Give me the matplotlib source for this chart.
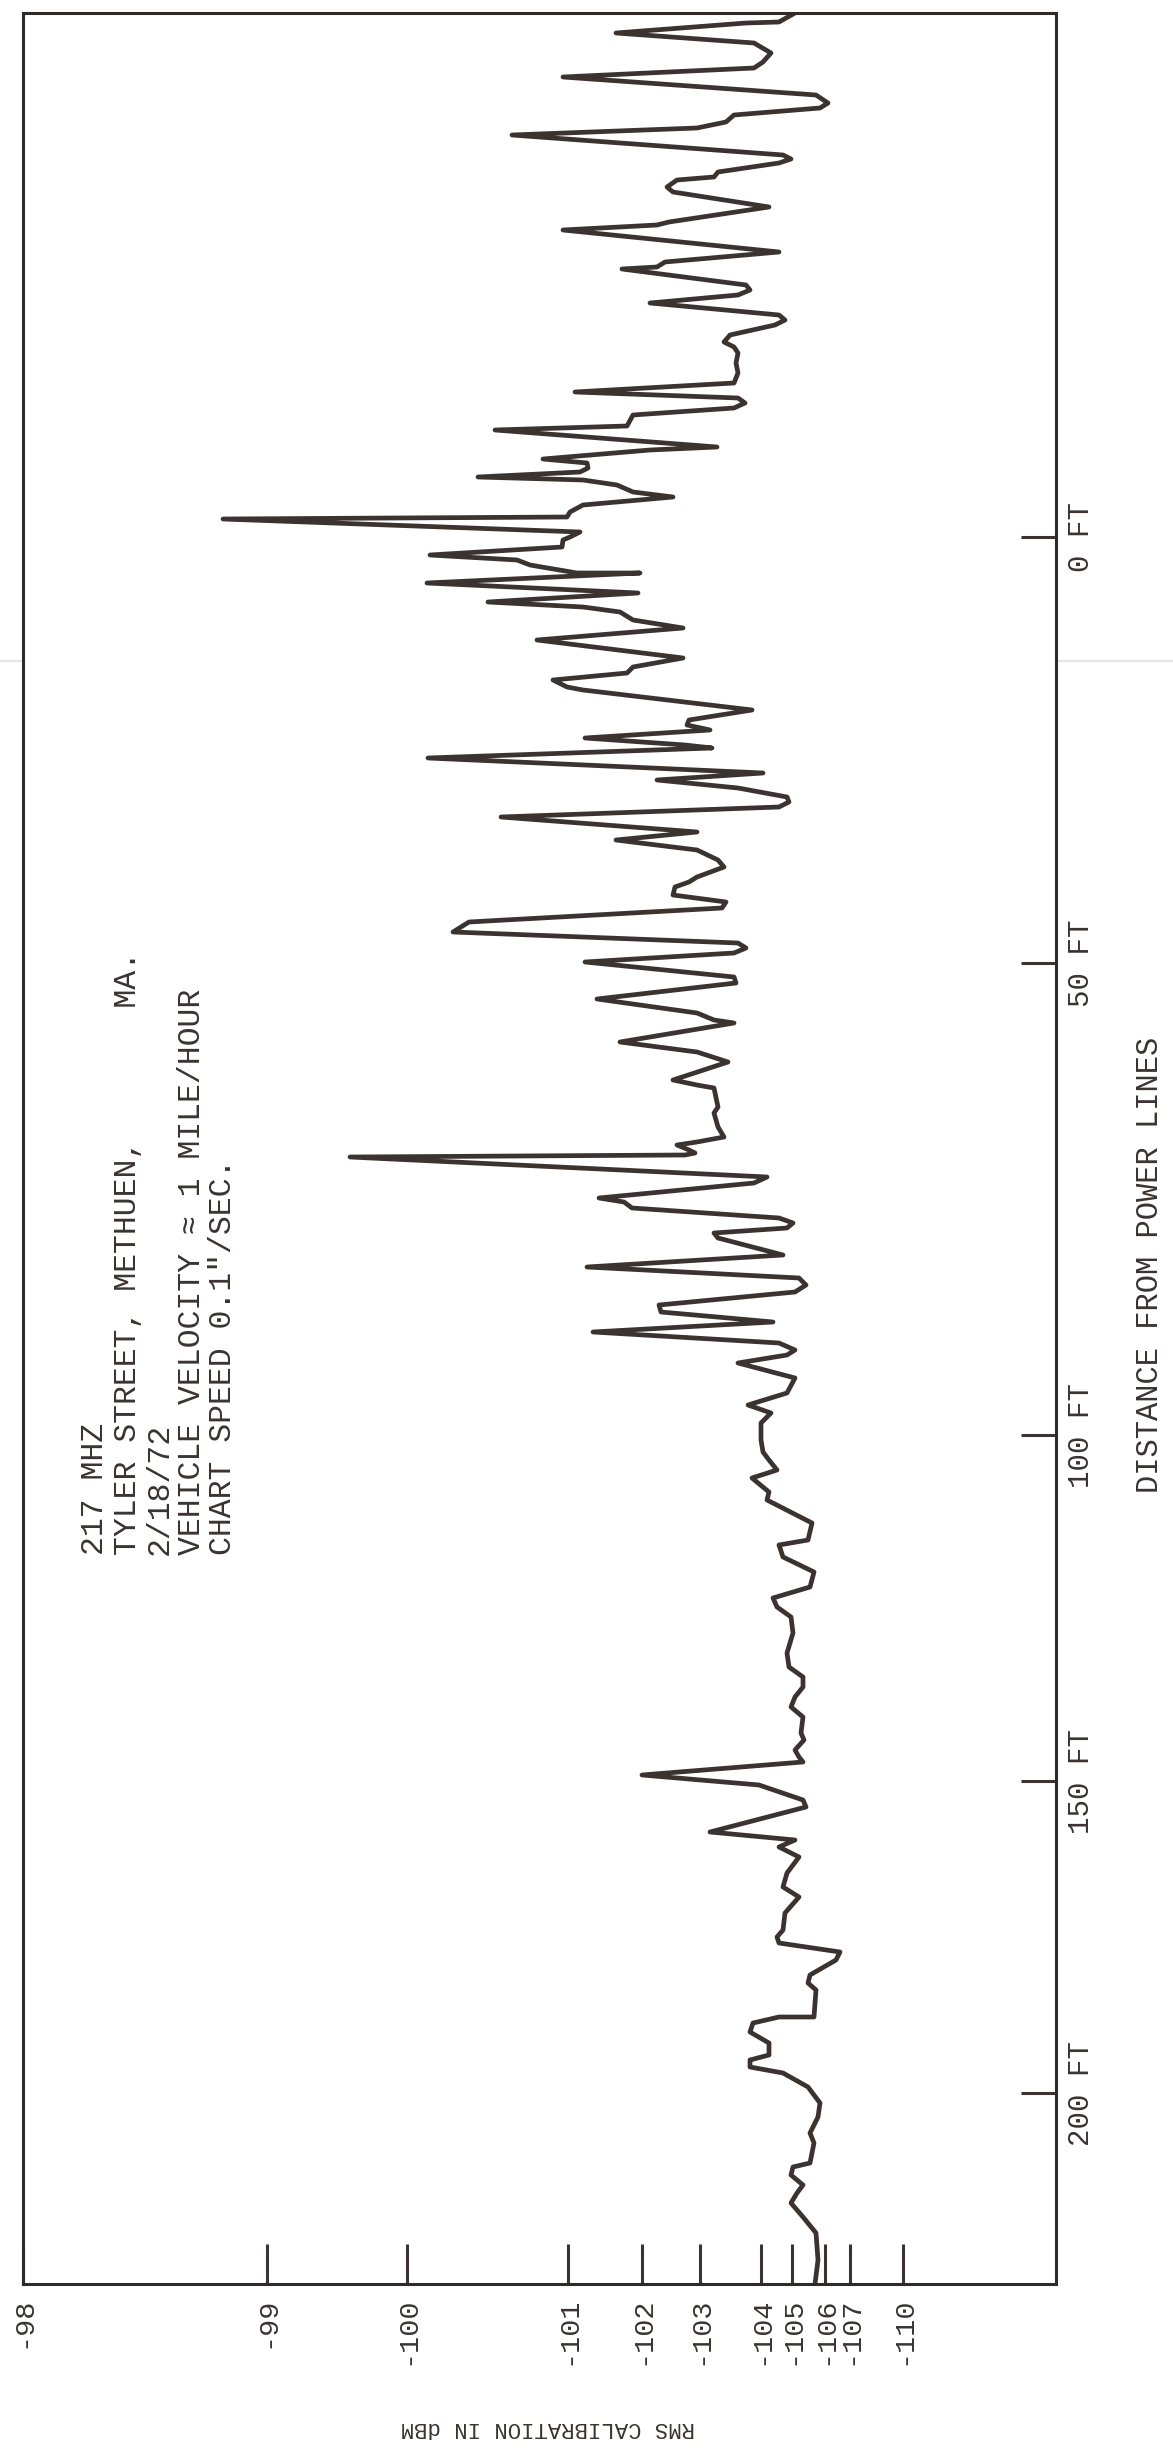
import matplotlib
matplotlib.use('Agg')
import matplotlib.pyplot as plt
from matplotlib.lines import Line2D

plt.rcParams['font.family'] = ['Liberation Mono', 'DejaVu Sans Mono']

INK = '#3a3330'

# calibration marks along the pen axis (chart units measured from the -98 dBm edge)
cal_labels = ['-98', '-99', '-100', '-101', '-102', '-103', '-104', '-105', '-106', '-107', '-110']
cal_pos = [0.0, 24.4, 38.4, 54.5, 61.9, 67.7, 73.8, 76.9, 80.2, 82.7, 88.0]

# distance marks along the paper travel (chart units from the top of the strip)
dist_labels = ['0 FT', '50 FT', '100 FT', '150 FT', '200 FT']
dist_pos = [52.4, 95.0, 142.2, 176.8, 208.0]

# recorder trace: paper travel and pen deflection
chart_travel = [
    0.0, 0.9, 1.0, 2.0, 3.0, 4.0, 4.9, 5.5, 6.4, 8.2, 9.0, 9.5, 10.2, 10.9, 11.5,
    12.2, 14.2, 14.6, 15.0, 15.9, 16.4, 16.7, 17.4, 17.9, 19.4, 20.9, 21.2, 21.7,
    23.9, 24.9, 25.4, 25.6, 27.2, 27.7, 28.2, 29.0, 30.2, 30.7, 31.2, 32.2, 32.9,
    33.4, 34.0, 35.0, 36.0, 37.0, 37.9,
    38.5, 39.0, 39.5, 40.2, 41.3, 41.7, 43.4, 43.7, 44.6, 45.0, 45.5, 45.9, 46.4,
    46.7, 47.2, 47.9, 48.4, 49.2, 49.9, 50.4, 50.6, 51.9, 52.4, 52.7, 53.4, 54.2,
    54.7, 55.2, 56.0, 56.0, 57.0, 58.0, 58.9, 59.4, 59.9, 60.7, 61.5, 62.7, 64.5,
    65.4, 66.0, 66.7, 67.4, 67.7, 69.7,
    70.7, 71.2, 71.7, 72.5, 73.2, 73.5, 74.5, 76.0,
    76.7, 77.5, 78.4, 78.9, 79.4, 80.4, 81.9, 82.7, 83.7, 84.7, 85.4, 86.4, 86.9,
    87.4, 88.2, 88.9, 89.5, 90.9, 91.9, 93.0, 93.5, 94.0, 94.9, 96.4, 97.0, 98.6,
    100.0, 100.7, 101.0, 102.9, 103.9, 104.9, 106.7, 107.2, 107.5, 109.4, 110.0,
    111.4, 112.4, 112.9, 113.2, 113.7, 114.0,
    114.2, 114.4, 116.4, 117.0, 118.5, 118.9, 119.5, 120.5, 121.0, 121.5, 122.0,
    122.5, 124.2, 125.4, 126.5, 127.2, 127.9, 129.2, 129.9, 130.9, 131.9, 133.0,
    133.7, 134.2, 135.0, 136.5, 138.0, 139.2, 140.0, 141.0, 142.7, 143.9, 144.7,
    145.7, 146.5, 147.9, 148.7, 151.0,
    152.7, 153.2, 154.4, 155.9, 157.4, 158.5, 159.4, 160.4, 162.0, 164.0, 165.4,
    166.4, 167.4, 168.4, 169.4, 170.4, 172.0, 172.7, 173.7, 174.4, 174.9, 176.2,
    177.2, 178.7, 179.4, 181.9, 182.7, 183.4, 184.4, 186.0, 187.4, 188.4,
    190.0, 191.7, 192.4, 193.0, 193.9, 194.7, 196.2, 197.0, 197.7, 200.4, 200.4,
    201.0, 201.9, 203.0, 204.2, 204.7, 205.4, 206.0, 207.4, 209.0, 210.4, 212.0,
    213.0, 215.0, 215.4, 216.2, 217.2, 218.0, 219.0, 220.4, 222.0, 224.7, 227.1,
]
pen_level = [
    77.2, 75.6, 72.3, 59.3, 73.1, 74.8, 74.0, 73.1, 54.0, 79.3, 80.5, 79.7, 71.1, 70.3, 67.4,
    48.9, 76.0, 76.8, 75.6, 69.5, 69.1, 65.4, 64.4, 65.0, 74.6, 64.6, 63.4, 54.0,
    75.6, 64.2, 63.4, 59.9, 72.3, 72.7, 71.5, 62.7, 75.6, 76.2, 75.2, 70.7, 70.1,
    71.1, 71.5, 71.3, 71.5, 71.1, 55.2,
    71.5, 72.2, 71.1, 61.0, 60.4, 47.2, 69.4, 62.7, 52.0, 56.4, 56.5, 55.7, 45.5,
    56.0, 59.4, 61.0, 65.0, 56.0, 54.7, 54.4, 20.0, 55.7, 54.7, 54.0, 53.9, 40.7,
    49.4, 50.7, 55.4, 61.7, 40.4, 61.5, 46.5, 56.0, 59.7, 61.0, 66.0, 51.4, 66.0,
    61.0, 60.4, 53.0, 54.4, 56.0, 72.9,
    66.6, 66.4, 68.7, 56.2, 66.2, 68.9, 40.5, 74.0,
    63.4, 71.5, 76.4, 76.6, 75.6, 47.8, 67.4, 59.3, 67.4, 69.5, 70.1, 67.4, 66.6,
    65.2, 65.0, 70.3, 69.9, 44.6, 43.0, 71.5, 72.3, 71.1, 56.2, 71.1, 71.3, 57.4,
    67.4, 69.1, 71.1, 59.7, 67.4, 70.5, 65.0, 67.4, 69.1, 69.5, 69.1,
    69.5, 70.1, 67.4, 65.4, 66.6, 67.2,
    66.2, 32.7, 74.4, 73.1, 57.6, 60.1, 60.9, 75.6, 77.0, 76.4, 69.1,
    69.5, 76.0, 56.4, 77.6, 78.3, 77.2, 63.6, 63.8, 75.0, 57.0, 75.6,
    77.2, 76.4, 71.5, 77.2, 76.4, 72.5, 74.8, 73.8, 73.8, 74.0, 74.6,
    75.4, 72.9, 74.6, 74.4, 78.9,
    78.5, 75.6, 76.0, 79.1, 78.7, 75.0, 75.4, 76.8, 77.0, 76.4, 76.6,
    78.0, 78.0, 77.2, 76.8, 78.0, 77.8, 78.1, 77.2, 77.6, 78.0, 61.9,
    73.6, 78.0, 78.3, 68.7, 77.2, 75.6, 77.6, 76.4, 76.0, 77.6,
    76.2, 76.0, 75.4, 75.6, 81.7, 81.3, 78.7, 78.5, 79.3, 79.1, 75.6,
    73.0, 72.7, 74.6, 74.6, 72.7, 72.7, 76.0, 78.5, 79.7, 79.5, 78.7,
    79.1, 78.7, 77.0, 76.8, 78.0, 77.4, 76.8, 78.0, 79.3, 79.5, 79.2,
]

header_lines = [
    '217 MHZ',
    'TYLER STREET, METHUEN,       MA.',
    '2/18/72',
    'VEHICLE VELOCITY \u2248 1 MILE/HOUR',
    'CHART SPEED 0.1"/SEC.',
]

W, H = 1173, 2452
fig = plt.figure(figsize=(W / 100, H / 100), dpi=100)
fig.patch.set_facecolor('white')

# faint fold across the sheet
fig.add_artist(Line2D([0, 1], [1 - 661 / H] * 2, transform=fig.transFigure,
                      color='#e6e6e6', lw=1.5, zorder=0))

ax = fig.add_axes([23 / W, 1 - 2284 / H, (1056 - 23) / W, (2284 - 13) / H])
ax.plot(pen_level, chart_travel, color=INK, lw=3.4,
        solid_joinstyle='round', solid_capstyle='round')

ax.set_xlim(0, 103.3)
ax.set_ylim(227.1, 0)

for side in ['left', 'right', 'top', 'bottom']:
    ax.spines[side].set_linewidth(2.2)
    ax.spines[side].set_color('#2e2a28')

ax.xaxis.set_ticks_position('bottom')
ax.set_xticks(cal_pos, cal_labels)
ax.tick_params(axis='x', direction='in', length=29, width=2.2, pad=9,
               labelsize=20.5, labelrotation=90, colors=INK)

ax.yaxis.tick_right()
ax.set_yticks(dist_pos, dist_labels)
ax.tick_params(axis='y', direction='in', length=25, width=2.2, pad=8,
               labelsize=21, labelrotation=90, colors=INK)
for lab in ax.get_yticklabels():
    lab.set_verticalalignment('center')

# run notes typed on the chart
line_x = [95, 128, 160, 192, 223]
for x, txt in zip(line_x, header_lines):
    fig.text(x / W, 1 - 1555 / H, txt, rotation=90, ha='center', va='bottom',
             fontsize=22.7, color=INK)

fig.text(1150 / W, 1 - 1265 / H, 'DISTANCE FROM POWER LINES', rotation=90,
         ha='center', va='center', fontsize=22, color=INK)
fig.text(548 / W, 1 - 2427 / H, 'RMS CALIBRATION IN dBM', rotation=180,
         ha='center', va='center', fontsize=16, color=INK)

fig.savefig('out.png', dpi=100)
